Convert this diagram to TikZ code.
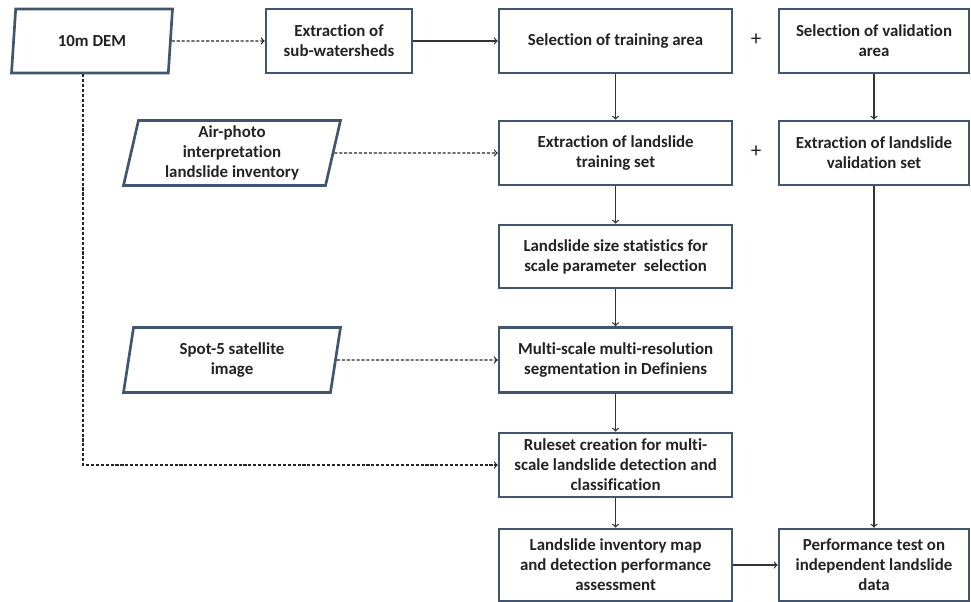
\documentclass[tikz,border=0pt]{standalone}
\usepackage{fontspec}
\setmainfont{Carlito}[Ligatures={NoCommon}]
\usepackage{xcolor}
\usepackage{tikz}
\definecolor{BoxBlue}{RGB}{65, 84, 112}
\definecolor{TextDark}{RGB}{35, 35, 35}
\tikzstyle{procbox} = [rectangle, minimum width=5.825cm, minimum height=1.6cm, align=center, draw=BoxBlue, fill=white, line width=1.9pt, text=TextDark, inner sep=2pt]
\tikzstyle{databox} = [trapezium, trapezium left angle=76, trapezium right angle=104, trapezium stretches body=true, minimum width=5.425cm, minimum height=1.6cm, align=center, draw=BoxBlue, fill=white, line width=1.9pt, text=TextDark, inner sep=2pt]
\tikzstyle{arrow} = [line width=0.9pt, draw=black!80, ->, >=to]
\tikzstyle{dasharrow} = [line width=0.9pt, draw=black!85, dash pattern=on 2.2pt off 1.3pt, ->, >=to]
\tikzstyle{plus} = [font=\fontsize{15}{18}\selectfont, text=TextDark]
\usetikzlibrary{shapes,arrows,positioning,calc}

\begin{document}
\begin{tikzpicture}[every node/.style={font=\fontsize{12}{14.2}\selectfont\bfseries}]
\useasboundingbox (0,0) rectangle (24.275,15.05);

% Row 1
\node (dem) [databox, minimum width=4.025cm] at (2.3,14.025) {10m DEM};
\node (subws) [procbox, minimum width=3.65cm] at (8.475,14.025) {Extraction of\\sub-watersheds};
\node (trainarea) [procbox] at (15.39,14.025) {Selection of training area};
\node (plusa) [plus] at (18.9,14.05) {+};
\node (valarea) [procbox, minimum width=4.75cm] at (21.85,14.025) {Selection of validation\\area};

% Row 2
\node (airphoto) [databox, minimum height=1.625cm] at (5.8,11.225) {Air-photo\\interpretation\\landslide inventory};
\node (trainset) [procbox] at (15.39,11.225) {Extraction of landslide\\training set};
\node (plusb) [plus] at (18.9,11.25) {+};
\node (valset) [procbox, minimum width=4.75cm] at (21.85,11.225) {Extraction of landslide\\validation set};

% Row 3
\node (sizestats) [procbox, minimum height=1.575cm] at (15.39,8.6375) {Landslide size statistics for\\scale parameter\ \ selection};

% Row 4
\node (spot) [databox, minimum height=1.625cm] at (5.8,6.05) {Spot-5 satellite\\image};
\node (segment) [procbox, minimum height=1.625cm] at (15.39,6.05) {Multi-scale multi-resolution\\segmentation in Definiens};

% Row 5
\node (ruleset) [procbox] at (15.39,3.425) {Ruleset creation for multi-\\scale landslide detection and\\classification};

% Row 6
\node (invmap) [procbox, minimum height=1.8cm] at (15.39,0.925) {Landslide inventory map\\and detection performance\\assessment};
\node (perftest) [procbox, minimum width=4.75cm, minimum height=1.8cm] at (21.85,0.925) {Performance test on\\independent landslide\\data};

\coordinate (demdrop) at (2.075,3.425);

% Arrows
\draw [dasharrow] (dem.east) -- (subws);
\draw [arrow] (subws) -- (trainarea);
\draw [arrow] (trainarea) -- (trainset);
\draw [arrow] (valarea) -- (valset);
\draw [dasharrow] (airphoto.east) -- (trainset);
\draw [arrow] (trainset) -- (sizestats);
\draw [arrow] (sizestats) -- (segment);
\draw [dasharrow] (spot.east) -- (segment);
\draw [arrow] (segment) -- (ruleset);
\draw [dasharrow] (dem.south -| demdrop) -- (demdrop) -- (ruleset);
\draw [arrow] (ruleset) -- (invmap);
\draw [arrow] (valset) -- (perftest);
\draw [arrow] (invmap) -- (perftest);

\end{tikzpicture}
\end{document}
